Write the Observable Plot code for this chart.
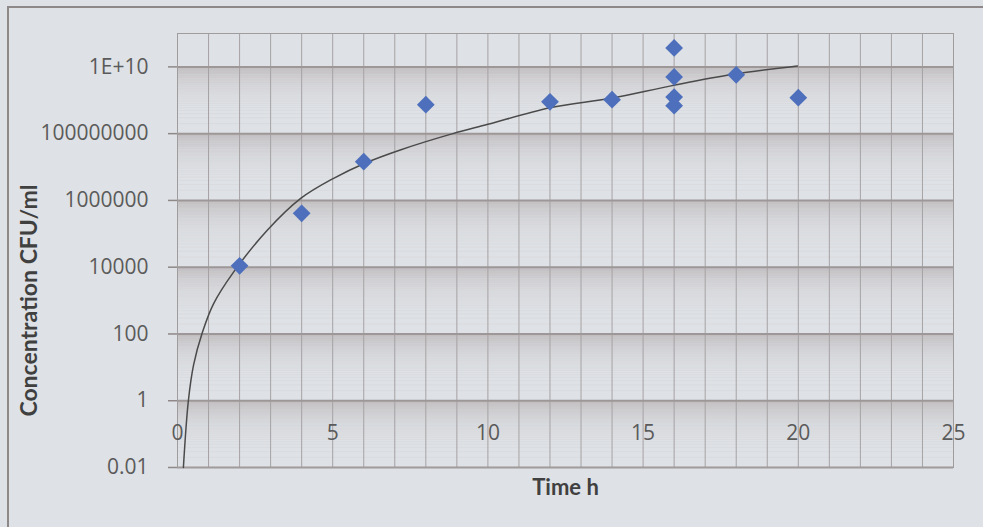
<!DOCTYPE html>
<html>
<head>
<meta charset="utf-8">
<script src="https://cdn.jsdelivr.net/npm/d3@7"></script>
<script src="https://cdn.jsdelivr.net/npm/@observablehq/plot@0.6"></script>
<style>
  html, body { margin: 0; padding: 0; background: #dee1e5; overflow: hidden; }
  #wrap { position: relative; width: 983px; height: 527px; }
  #border { position: absolute; left: 7px; top: 6px; width: 1000px; height: 600px;
            border-left: 2px solid #8e8888; border-top: 2px solid #8e8888; pointer-events: none; }
  svg { position: absolute; left: 0; top: 0; }
</style>
</head>
<body>
<div id="wrap"><div id="border"></div></div>
<script>
// Measured points
const timeH = [2, 4, 6, 8, 12, 14, 16, 16, 16, 16, 18, 20];
const cfu   = [1.1e4, 4.1e5, 1.45e7, 7.4e8, 9e8, 1.04e9, 3.7e10, 5e9, 1.25e9, 6.9e8, 5.8e9, 1.2e9];

// Trend line
const trendT = [0.19, 0.35, 0.52, 0.8, 1.16, 1.8, 2.9, 3.97, 5.03, 6.0, 7.2, 8.87, 10.0, 12.0, 13.97, 15.9, 17.9, 19.97];
const trendC = [0.01, 1, 12, 110, 800, 7000, 1.3e5, 1.15e6, 4.6e6, 1.26e7, 3.3e7, 1e8, 1.9e8, 6e8, 1.15e9, 2.7e9, 6.0e9, 1.07e10];

// Axes
const xTicks = [0, 5, 10, 15, 20, 25];
const yTicks = [0.01, 1, 100, 10000, 1000000, 100000000, 1e10];
const yTickLabels = ["0.01", "1", "100", "10000", "1000000", "100000000", "1E+10"];
const xTitle = "Time h";
const yTitle = "Concentration CFU/ml";

const points = timeH.map((t, i) => ({t, c: cfu[i]}));
const trend = trendT.map((t, i) => ({t, c: trendC[i]}));
const xGrid = d3.range(0, 26, 1);
const yMinor = [];
yTicks.slice(0, -1).forEach(b => { for (let k = 2; k <= 99; k++) yMinor.push(b * k); });

const tickFont = "'Open Sans', Lato, sans-serif";
const titleFont = "Lato, 'Open Sans', sans-serif";

const chart = Plot.plot({
  width: 983,
  height: 527,
  marginLeft: 177,
  marginRight: 30,
  marginTop: 33,
  marginBottom: 60,
  style: {background: "transparent", fontFamily: tickFont},
  x: {domain: [0, 25], axis: null},
  y: {type: "log", domain: [0.01, 1e11], axis: null},
  marks: [
    Plot.ruleY(yMinor, {stroke: "#a59f9f", strokeOpacity: 0.14, strokeWidth: 0.6}),
    Plot.ruleX(xGrid, {stroke: "#a6a2a4", strokeWidth: 1}),
    Plot.ruleY(yTicks, {stroke: "#9d9797", strokeWidth: 2}),
    Plot.frame({stroke: "#a09c9c", strokeWidth: 1}),
    Plot.ruleY(yTicks, {x1: 0, x2: 0, insetLeft: -9, stroke: "#8e8888", strokeWidth: 1.5}),
    Plot.text(yTicks, {x: () => 0, y: d => d, dx: -29, textAnchor: "end", text: (d, i) => yTickLabels[i], fontSize: 21, fill: "#5a5a5a", fontFamily: tickFont}),
    Plot.text(xTicks, {x: d => d, y: () => 1, dy: 33, text: d => String(d), fontSize: 21, fill: "#5a5a5a", fontFamily: tickFont}),
    Plot.line(trend, {x: "t", y: "c", stroke: "#4a4a4a", strokeWidth: 1.5, curve: "catmull-rom"}),
    Plot.dot(points, {x: "t", y: "c", symbol: "diamond2", r: 8, fill: "#4d6fbc", stroke: "none"}),
    Plot.text([xTitle], {frameAnchor: "bottom", dy: 20, text: d => d, fontSize: 22, fontWeight: "bold", fill: "#404040", lineAnchor: "middle", fontFamily: titleFont}),
    Plot.text([yTitle], {frameAnchor: "left", textAnchor: "middle", dx: -148, dy: 50, rotate: -90, text: d => d, fontSize: 23, fontWeight: "bold", fill: "#404040", lineAnchor: "middle", fontFamily: titleFont})
  ]
});
document.getElementById("wrap").appendChild(chart);
</script>
</body>
</html>
